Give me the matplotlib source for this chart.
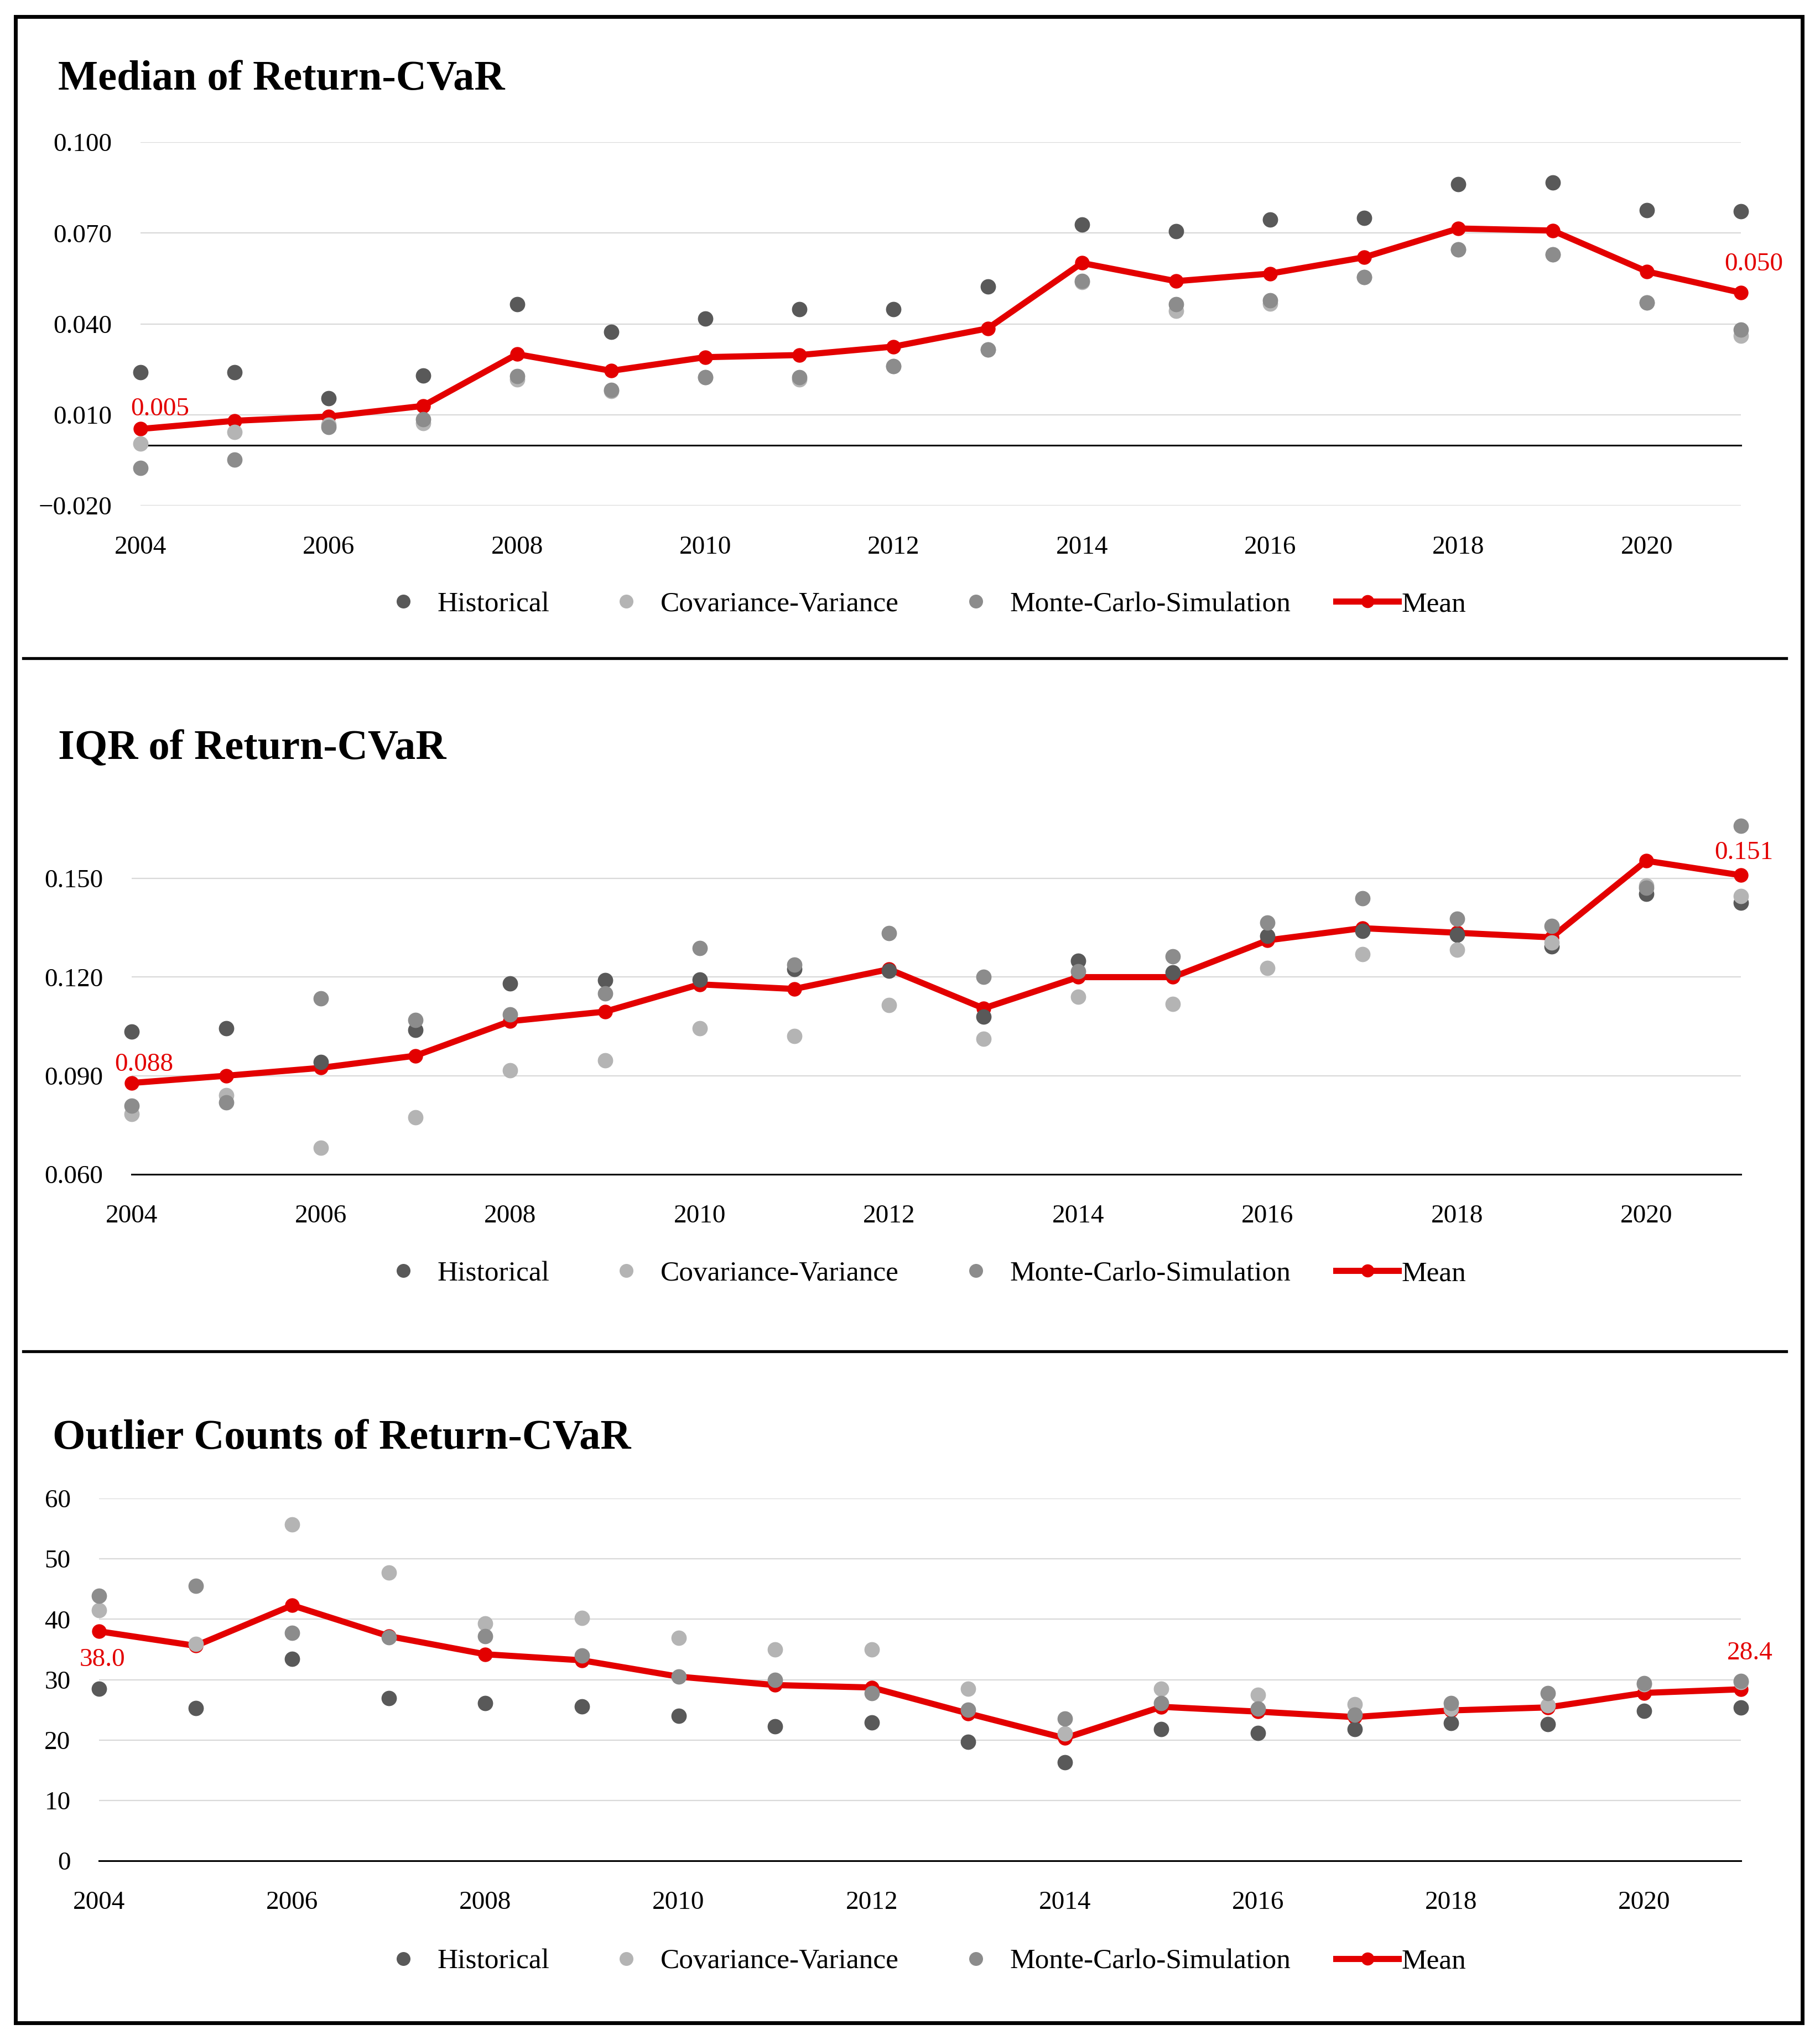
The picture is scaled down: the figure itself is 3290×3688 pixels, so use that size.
import matplotlib
matplotlib.use("Agg")
import matplotlib.pyplot as plt
from matplotlib.lines import Line2D
from matplotlib.patches import Rectangle

# ==============================
# DATA
# ==============================
years = list(range(2004, 2022))
xtick_years = [2004, 2006, 2008, 2010, 2012, 2014, 2016, 2018, 2020]
series_names = ["Historical", "Covariance-Variance", "Monte-Carlo-Simulation", "Mean"]

# Median of Return-CVaR
median_hist = [0.024, 0.024, 0.0154, 0.023, 0.0464, 0.0373, 0.0417, 0.0449, 0.0449,
               0.0524, 0.0728, 0.0706, 0.0745, 0.0749, 0.0862, 0.0866, 0.0775, 0.0771]
median_cov = [0.0004, 0.0043, 0.0067, 0.0073, 0.0216, 0.0178, 0.0224, 0.0217, 0.026,
              0.0315, 0.0537, 0.0443, 0.0467, 0.0555, 0.0646, 0.0629, 0.0471, 0.036]
median_mc = [-0.0076, -0.0049, 0.006, 0.0085, 0.0227, 0.0182, 0.0224, 0.0224, 0.026,
             0.0315, 0.0541, 0.0464, 0.0478, 0.0555, 0.0646, 0.0629, 0.0471, 0.038]
median_mean = [0.0053, 0.008, 0.0094, 0.0129, 0.030, 0.0245, 0.029, 0.0297, 0.0325,
               0.0385, 0.0601, 0.0541, 0.0566, 0.062, 0.0715, 0.0708, 0.0573, 0.0503]

# IQR of Return-CVaR
iqr_hist = [0.1035, 0.1045, 0.0942, 0.104, 0.118, 0.119, 0.1193, 0.1224, 0.122,
            0.108, 0.1249, 0.1214, 0.1326, 0.134, 0.1328, 0.1293, 0.1454, 0.1426]
iqr_cov = [0.0784, 0.084, 0.068, 0.0774, 0.0917, 0.0947, 0.1045, 0.1021, 0.1115,
           0.1012, 0.114, 0.1119, 0.1228, 0.127, 0.1284, 0.1305, 0.1478, 0.1447]
iqr_mc = [0.0808, 0.0819, 0.1136, 0.107, 0.1087, 0.115, 0.1289, 0.1238, 0.1333,
          0.120, 0.1217, 0.1263, 0.1366, 0.144, 0.1377, 0.1356, 0.1472, 0.166]
iqr_mean = [0.0878, 0.090, 0.0924, 0.0961, 0.1066, 0.1095, 0.1178, 0.1164, 0.1224,
            0.1105, 0.120, 0.120, 0.1312, 0.1349, 0.1335, 0.1321, 0.1554, 0.151]

# Outlier Counts of Return-CVaR
out_hist = [28.5, 25.3, 33.4, 26.9, 26.1, 25.6, 24.0, 22.3, 22.9,
            19.7, 16.3, 21.8, 21.2, 21.8, 22.8, 22.6, 24.8, 25.4]
out_cov = [41.5, 35.9, 55.7, 47.7, 39.3, 40.2, 36.9, 35.0, 35.0,
           28.5, 21.1, 28.5, 27.5, 25.9, 25.2, 25.7, 29.2, 29.6]
out_mc = [43.9, 45.5, 37.7, 37.0, 37.2, 34.0, 30.5, 30.0, 27.8,
          25.0, 23.5, 26.1, 25.2, 24.2, 26.1, 27.8, 29.4, 29.8]
out_mean = [38.0, 35.6, 42.3, 37.2, 34.2, 33.2, 30.5, 29.1, 28.7,
            24.4, 20.3, 25.5, 24.7, 23.8, 24.9, 25.4, 27.8, 28.4]

# ==============================
# STYLE
# ==============================
W, H = 3290, 3688
C_HIST = "#595959"
C_COV = "#b4b4b4"
C_MC = "#8c8c8c"
C_RED = "#e30000"
C_GRID = "#d9d9d9"

plt.rcParams['font.family'] = ['Liberation Serif', 'DejaVu Serif']

fig = plt.figure(figsize=(W / 100, H / 100), dpi=100)


def draw_panel(rect, hist, cov, mc, mean, ylim, yticks, base, tick_fmt, label_fmt,
               title, title_xy, legend_y, first_off, last_off, first_ha):
    ax = fig.add_axes(rect)
    ax.plot(years, mean, color=C_RED, lw=8, marker='o', markersize=18,
            zorder=3, clip_on=False)
    for vals, col in [(hist, C_HIST), (cov, C_COV), (mc, C_MC)]:
        ax.plot(years, vals, ls='none', marker='o', markersize=19, color=col,
                zorder=4, clip_on=False)

    ax.set_xlim(2004, 2021)
    ax.set_ylim(*ylim)
    ax.set_yticks(yticks)
    ax.set_yticklabels([tick_fmt.format(v).replace('-', '\u2212') for v in yticks])
    ax.set_xticks(xtick_years)
    ax.set_xticklabels([str(y) for y in xtick_years])
    ax.tick_params(axis='both', length=0, labelsize=34)
    ax.tick_params(axis='y', pad=37)
    ax.tick_params(axis='x', pad=39)
    for s in ax.spines.values():
        s.set_visible(False)
    for v in yticks:
        if abs(v - base) > 1e-9:
            ax.axhline(v, color=C_GRID, lw=1.6, zorder=1)
    ax.axhline(base, color='black', lw=2.2, zorder=2, clip_on=False)

    # data labels for the first and last mean point
    ax.annotate(label_fmt.format(mean[0]), (years[0], mean[0]), xytext=first_off,
                textcoords='offset points', ha=first_ha, va='center',
                color=C_RED, fontsize=34, zorder=6)
    ax.annotate(label_fmt.format(mean[-1]), (years[-1], mean[-1]), xytext=last_off,
                textcoords='offset points', ha='center', va='center',
                color=C_RED, fontsize=34, zorder=6)

    fig.text(title_xy[0], title_xy[1], title, fontsize=55, fontweight='bold',
             ha='left', va='baseline')

    handles = [
        Line2D([], [], ls='none', marker='o', markersize=17, color=C_HIST),
        Line2D([], [], ls='none', marker='o', markersize=17, color=C_COV),
        Line2D([], [], ls='none', marker='o', markersize=17, color=C_MC),
        Line2D([], [], color=C_RED, lw=8, marker='o', markersize=16),
    ]
    ax.legend(handles, series_names, loc='center', ncol=4, frameon=False,
              bbox_to_anchor=(0.505, legend_y), bbox_transform=fig.transFigure,
              fontsize=37, handlelength=2.2, handletextpad=0.1,
              columnspacing=1.6)
    return ax


# ==============================
# PANELS
# ==============================
draw_panel([254 / W, 1 - 914 / H, (3147 - 254) / W, (914 - 257) / H],
           median_hist, median_cov, median_mc, median_mean,
           (-0.020, 0.100), [-0.020, 0.010, 0.040, 0.070, 0.100], 0.0,
           "{:.3f}", "{:.3f}",
           "Median of Return-CVaR", (105 / W, 1 - 162 / H), 1 - 1093 / H,
           (-13, 26), (17, 37), 'left')

draw_panel([238 / W, 1 - 2123 / H, (3147 - 238) / W, (2123 - 1410) / H],
           iqr_hist, iqr_cov, iqr_mc, iqr_mean,
           (0.060, 0.180), [0.060, 0.090, 0.120, 0.150], 0.060,
           "{:.3f}", "{:.3f}",
           "IQR of Return-CVaR", (105 / W, 1 - 1372 / H), 1 - 2303 / H,
           (-22, 24), (4, 29), 'left')

draw_panel([179 / W, 1 - 3364 / H, (3147 - 179) / W, (3364 - 2709) / H],
           out_hist, out_cov, out_mc, out_mean,
           (0, 60), [0, 10, 20, 30, 40, 50, 60], 0,
           "{:.0f}", "{:.1f}",
           "Outlier Counts of Return-CVaR", (95 / W, 1 - 2619 / H), 1 - 3546 / H,
           (4, -37), (12, 47), 'center')

# ==============================
# FRAME AND SEPARATORS
# ==============================
fig.patches.append(Rectangle((28 / W, 1 - 3657 / H), (3258 - 28) / W, (3657 - 30) / H,
                             transform=fig.transFigure, fill=False, lw=5,
                             ec='black'))
for yy in [1190, 2443]:
    fig.add_artist(Line2D([42 / W, 3229 / W], [1 - yy / H, 1 - yy / H],
                          color='black', lw=3.8, transform=fig.transFigure))

fig.savefig("out.png", dpi=100, facecolor='white')
